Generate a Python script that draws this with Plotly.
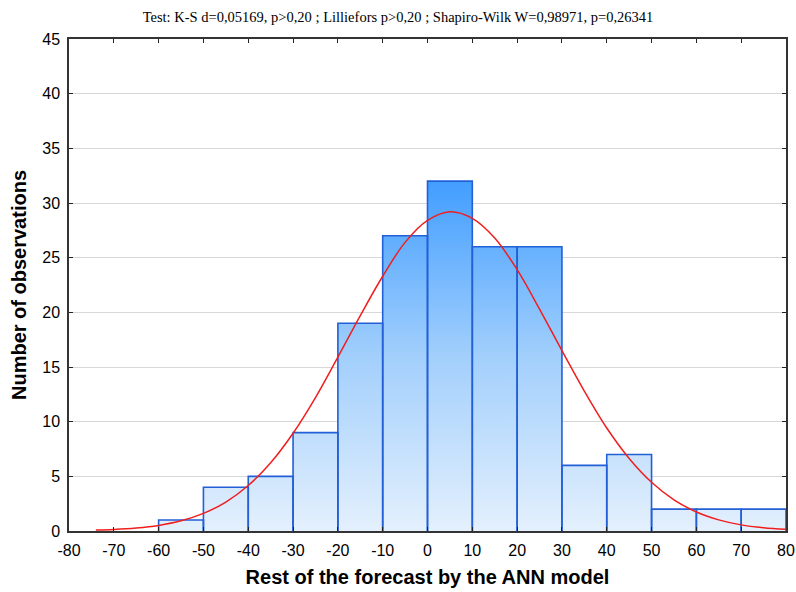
import plotly.graph_objects as go

# Histogram data (bin edges and counts)
bin_edges = [-60, -50, -40, -30, -20, -10, 0, 10, 20, 30, 40, 50, 60, 70, 80]
counts = [1, 4, 5, 9, 19, 27, 32, 26, 26, 6, 7, 2, 2, 2]

# Fitted normal curve
curve_x = [-74, -70, -65, -60, -55, -50, -45, -40, -35, -30, -25, -20, -15, -10, -5,
           0, 5, 10, 15, 20, 25, 30, 35, 40, 45, 50, 55, 60, 65, 70, 75, 80]
curve_y = [0.09, 0.14, 0.27, 0.51, 0.93, 1.61, 2.65, 4.16, 6.24, 8.94, 12.2, 15.9, 19.7, 23.3, 26.4,
           28.4, 29.2, 28.6, 26.8, 23.9, 20.3, 16.5, 12.8, 9.42, 6.64, 4.46, 2.85, 1.74, 1.02, 0.56, 0.30, 0.15]

x_ticks = list(range(-80, 81, 10))
y_ticks = list(range(0, 46, 5))

title_text = "Test: K-S d=0,05169, p>0,20 ; Lilliefors p>0,20 ; Shapiro-Wilk W=0,98971, p=0,26341"
x_title = "Rest of the forecast by the ANN model"
y_title = "Number of observations"

fig = go.Figure()

# gradient fill (step area)
step_x = bin_edges
step_y = counts + [counts[-1]]
fig.add_trace(go.Scatter(
    x=step_x, y=step_y, mode="lines", line=dict(width=0, shape="hv", color="rgba(0,0,0,0)"),
    fill="tozeroy",
    fillgradient=dict(type="vertical", start=0, stop=32,
                      colorscale=[[0, "rgb(228,240,253)"], [0.5, "rgb(162,207,252)"], [1, "rgb(66,158,255)"]]),
    hoverinfo="skip", showlegend=False,
))

# bar outlines built from the bins
ox, oy = [], []
for a, b, c in zip(bin_edges[:-1], bin_edges[1:], counts):
    ox += [a, a, b, b, None]
    oy += [0, c, c, 0, None]
fig.add_trace(go.Scatter(
    x=ox, y=oy, mode="lines", line=dict(color="rgb(35,95,215)", width=1.6),
    hoverinfo="skip", showlegend=False,
))

# normal curve
fig.add_trace(go.Scatter(
    x=curve_x, y=curve_y, mode="lines",
    line=dict(color="rgb(240,30,30)", width=1.5, shape="spline"),
    showlegend=False,
))

fig.update_layout(
    width=796, height=592,
    margin=dict(l=69, r=10, t=39, b=61),
    paper_bgcolor="white", plot_bgcolor="white",
    title=dict(text=title_text, x=0.5, xanchor="center", y=1 - 17 / 592, yanchor="middle",
               font=dict(family="Liberation Serif", size=14.5, color="black")),
    font=dict(family="Liberation Sans", color="black"),
)
fig.update_xaxes(
    range=[-80, 80], tickvals=x_ticks, ticktext=[str(v) for v in x_ticks],
    ticks="inside", ticklen=4, tickcolor="#222", automargin=False,
    showline=True, linecolor="#333", linewidth=1.5, mirror="ticks",
    showgrid=False, zeroline=False, ticklabelstandoff=4,
    tickfont=dict(size=16, family="Liberation Sans"),
    title=dict(text=x_title, font=dict(size=20, family="Liberation Sans", weight="bold"), standoff=12),
)
fig.update_yaxes(
    range=[0, 45], tickvals=y_ticks, ticktext=[str(v) for v in y_ticks],
    ticks="inside", ticklen=4, tickcolor="#222", automargin=False,
    showline=True, linecolor="#333", linewidth=1.5, mirror="ticks",
    showgrid=True, gridcolor="#d8d8d8", gridwidth=1, zeroline=False, ticklabelstandoff=4,
    tickfont=dict(size=16, family="Liberation Sans"),
    title=dict(text=y_title, font=dict(size=20, family="Liberation Sans", weight="bold"), standoff=10),
)

fig.write_html("out.html")
